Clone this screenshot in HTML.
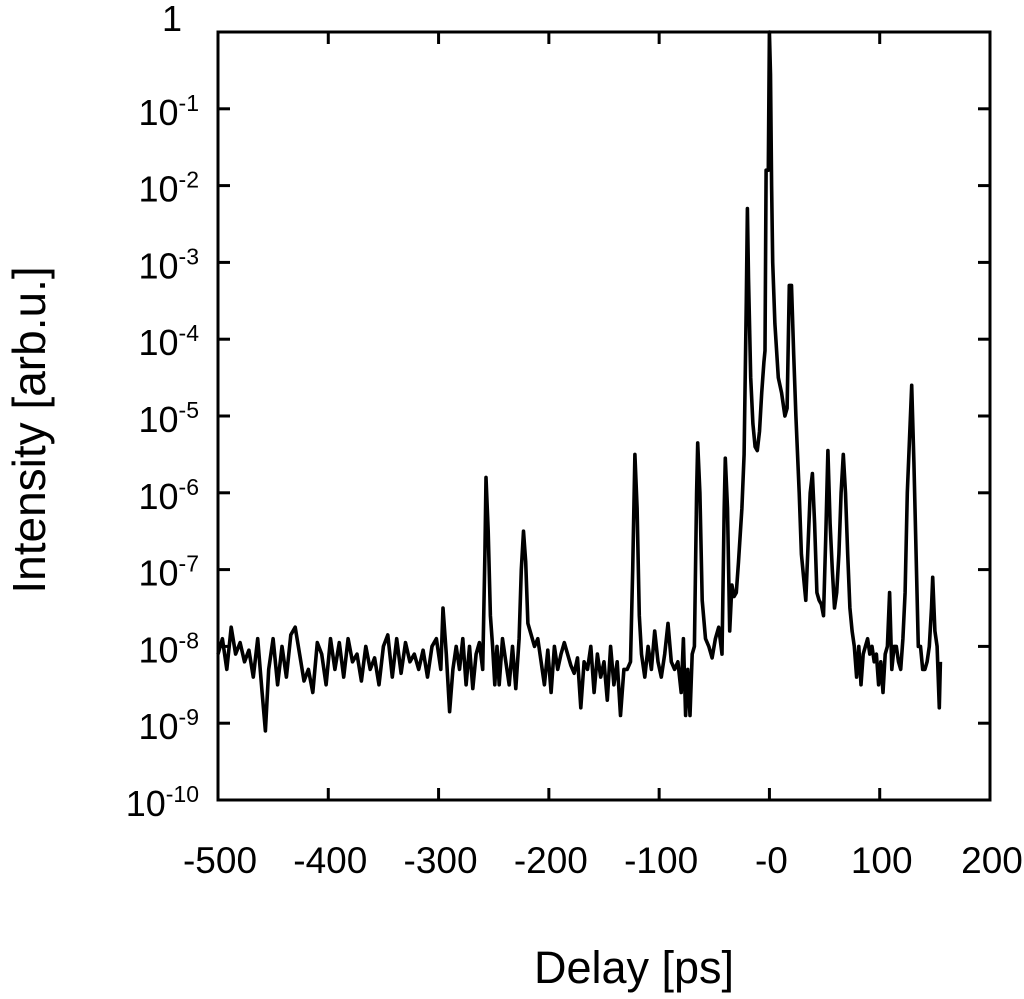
<!DOCTYPE html>
<html><head><meta charset="utf-8"><style>
html,body{margin:0;padding:0;background:#fff;}
svg{display:block;font-family:"Liberation Sans",Arial,sans-serif;}
</style></head><body>
<svg id="chart" width="1024" height="999" viewBox="0 0 1024 999" xmlns="http://www.w3.org/2000/svg">
<g id="axes"></g>
<path id="trace" fill="none" stroke="#000" stroke-width="3.6" stroke-linejoin="round"></path>
<text x="634" y="983" font-size="45" text-anchor="middle">Delay [ps]</text>
<text transform="translate(45,430) rotate(-90)" font-size="46" text-anchor="middle">Intensity [arb.u.]</text>
</svg>
<script>
const xTicks = [-500,-400,-300,-200,-100,0,100,200];
const xTickLabels = ["-500","-400","-300","-200","-100","-0","100","200"];
const yTicks = [0,-1,-2,-3,-4,-5,-6,-7,-8,-9,-10];
const delays = [-500,-496,-492,-488,-484,-480,-476,-472,-468,-464,-460,-457,-454,-450,-446,-442,-438,-434,-430,-426,-422,-418,-414,-410,-406,-402,-398,-394,-390,-386,-382,-378,-374,-370,-366,-362,-358,-354,-350,-346,-342,-338,-334,-330,-326,-322,-318,-314,-310,-306,-302,
-298,-296,-293,-290,-287,-284,-281,-278,-275,-272,-269,-266,-263,-260,-258,-257,-255,-253,-251,-249,-247,-245,-242,-239,-236,-233,-230,-227,-225,-223,-221,-219,-216,-213,-210,-207,-204,-201,-198,-195,-192,-189,-186,-183,-180,-177,-174,-171,-168,-165,-162,-159,-156,-153,-150,-147,-144,-141,-138,-135,-132,-129,-126,-124,-122,-120,-118,-116,-113,-110,-107,-104,-101,-98,-95,-92,-89,-86,-83,-80,-78,-76,-74,-72,-70,-68,-66,-65,-63,-61,-58,-55,-52,-49,-46,-43,-41,-40,-38,-36,-34,-32,-30,-28,-25,-23,-21,-20,-19,-17,-15,-13,-11,-9,-7,-5,-4,-3,-1,0,1,2,3,5,8,11,14,16,18,20,22,24,27,29,31,33,35,37,39,41,43,45,47,49,51,53,55,57,59,61,63,65,67,69,71,73,75,77,79,81,83,85,87,89,91,93,95,97,99,101,103,105,107,109,111,113,115,117,119,121,123,125,127,129,131,133,135,137,139,141,143,145,147,148,150,152,154,155];
const logIntensity = [-8.1,-7.9,-8.3,-7.75,-8.1,-7.95,-8.2,-8.05,-8.4,-7.9,-8.6,-9.1,-8.3,-7.9,-8.5,-8.0,-8.4,-7.85,-7.75,-8.1,-8.45,-8.3,-8.6,-7.95,-8.1,-8.5,-7.9,-8.3,-7.95,-8.4,-7.9,-8.2,-8.1,-8.45,-8.0,-8.3,-8.15,-8.5,-8.0,-7.85,-8.4,-7.9,-8.35,-7.95,-8.2,-8.1,-8.3,-8.05,-8.4,-8.0,-7.9,
-8.3,-7.5,-8.1,-8.85,-8.3,-8.0,-8.3,-7.9,-8.5,-8.0,-8.55,-8.1,-7.95,-8.3,-6.8,-5.8,-6.5,-7.6,-8.0,-8.5,-8.0,-8.5,-7.9,-8.2,-8.5,-8.0,-8.55,-7.9,-7.0,-6.5,-6.9,-7.7,-7.85,-8.0,-7.9,-8.2,-8.5,-8.05,-8.6,-8.0,-8.3,-8.1,-7.95,-8.1,-8.25,-8.35,-8.15,-8.8,-8.2,-8.3,-8.0,-8.6,-8.1,-8.4,-8.2,-8.7,-8.0,-8.5,-8.2,-8.9,-8.3,-8.3,-8.2,-7.0,-5.5,-6.2,-7.6,-8.1,-8.4,-8.0,-8.3,-7.8,-8.2,-8.4,-8.1,-7.7,-8.2,-8.3,-8.2,-8.6,-7.9,-8.9,-8.3,-8.9,-8.1,-8.0,-6.0,-5.35,-6.0,-7.4,-7.9,-8.0,-8.15,-7.9,-7.75,-8.1,-6.2,-5.55,-6.2,-7.8,-7.2,-7.35,-7.3,-6.9,-6.2,-5.5,-3.5,-2.3,-3.2,-4.5,-5.1,-5.4,-5.45,-5.2,-4.7,-4.3,-4.15,-1.8,-1.8,0,-0.55,-2.0,-3.0,-3.8,-4.5,-4.7,-5.0,-4.9,-3.3,-3.3,-4.2,-5.0,-6.0,-6.8,-7.1,-7.4,-6.7,-6.0,-5.75,-6.4,-7.3,-7.4,-7.45,-7.6,-6.6,-5.45,-6.4,-7.0,-7.5,-7.3,-6.8,-6.0,-5.5,-6.0,-6.8,-7.5,-7.8,-8.0,-8.4,-8.0,-8.5,-8.1,-8.0,-7.9,-8.1,-8.0,-8.2,-8.1,-8.5,-8.2,-8.6,-8.1,-8.0,-7.3,-8.3,-8.0,-8.0,-8.2,-8.3,-7.9,-7.3,-6.0,-5.3,-4.6,-5.6,-6.8,-8.0,-8.0,-8.3,-8.3,-8.2,-8.0,-7.5,-7.1,-7.8,-8.0,-8.8,-8.2];

const L=218,R=990,T=32,B=800;
const xMin=-500,xMax=200,yMin=-10,yMax=0;
function xs(d){return L+(d-xMin)/(xMax-xMin)*(R-L);}
function ys(e){return B-(e-yMin)/(yMax-yMin)*(B-T);}
const NS="http://www.w3.org/2000/svg";
const axes=document.getElementById('axes');
function mk(tag,attrs){const el=document.createElementNS(NS,tag);for(const k in attrs)el.setAttribute(k,attrs[k]);return el;}

const frame=mk('rect',{x:L,y:T,width:R-L,height:B-T,fill:'none',stroke:'#000','stroke-width':3});


axes.appendChild(frame);

xTicks.forEach((t,i)=>{
  const x=xs(t);
  const a=mk('line',{x1:x,y1:B,x2:x,y2:B-12,stroke:'#000','stroke-width':3});
  
  
  axes.appendChild(a);
  const b=mk('line',{x1:x,y1:T,x2:x,y2:T+12,stroke:'#000','stroke-width':3});
  
  
  axes.appendChild(b);
  const tx=mk('text',{x:x+2,y:873,'font-size':37,'text-anchor':'middle'});
  tx.textContent=xTickLabels[i];
  
  
  axes.appendChild(tx);
});
yTicks.forEach(t=>{
  const y=ys(t);
  const a=mk('line',{x1:L,y1:y,x2:L+12,y2:y,stroke:'#000','stroke-width':3});
  
  
  axes.appendChild(a);
  const b=mk('line',{x1:R,y1:y,x2:R-12,y2:y,stroke:'#000','stroke-width':3});
  
  
  axes.appendChild(b);
  let tx;
  if(t===0){
    tx=mk('text',{x:172,y:31,'font-size':36,'text-anchor':'middle'});
    tx.textContent='1';
  } else {
    tx=mk('text',{x:199,y:y+16,'font-size':36,'text-anchor':'end'});
    tx.appendChild(document.createTextNode('10'));
    const sp=mk('tspan',{dy:-14,'font-size':23});
    sp.textContent=String(t);
    tx.appendChild(sp);
  }
  
  
  axes.appendChild(tx);
});

let d='';
delays.forEach((v,i)=>{d+=(i?'L':'M')+xs(v).toFixed(1)+' '+ys(logIntensity[i]).toFixed(1);});
document.getElementById('trace').setAttribute('d',d);
</script>
</body></html>
